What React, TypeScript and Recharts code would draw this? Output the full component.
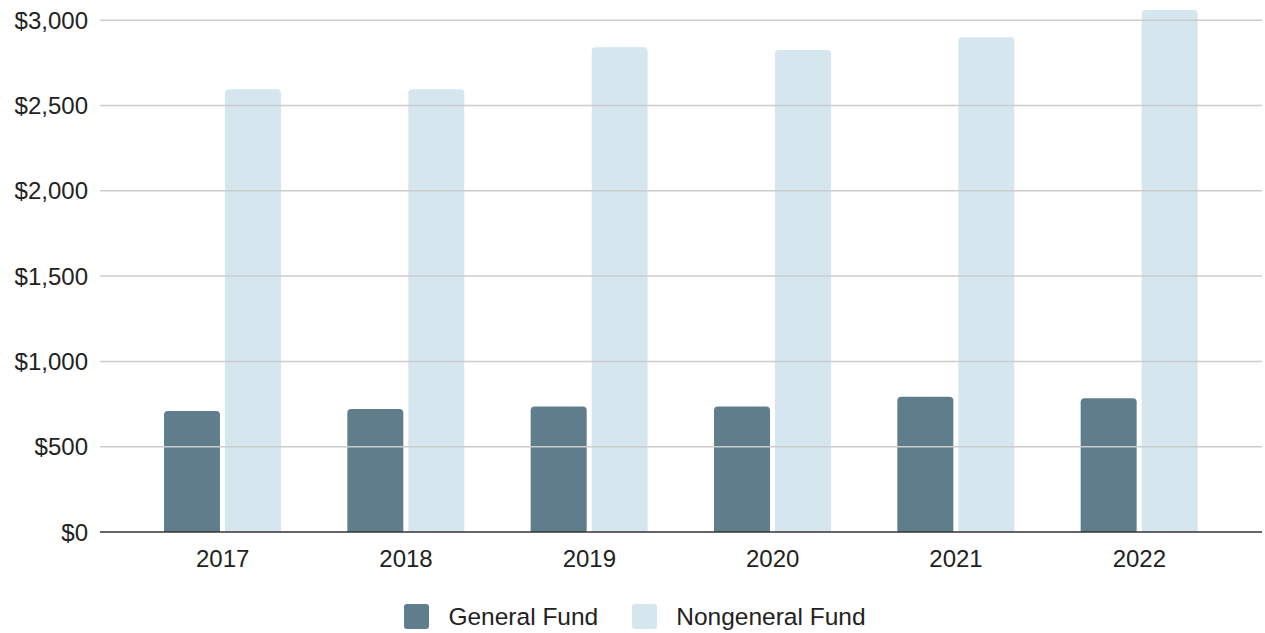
import { BarChart, Bar, XAxis, YAxis, ReferenceLine, Legend } from 'recharts';

const years = ['2017', '2018', '2019', '2020', '2021', '2022'];
const generalFund = [709, 721, 735, 735, 793, 784];
const nongeneralFund = [2595, 2595, 2841, 2825, 2900, 3060];
const yTicks = [0, 500, 1000, 1500, 2000, 2500, 3000];
const Y_MAX = 3060;

const GENERAL_COLOR = '#607D8B';
const NONGENERAL_COLOR = '#D6E6EF';
const FONT = '"Liberation Sans", Arial, sans-serif';

const data = years.map((year, i) => ({
  year,
  general: generalFund[i],
  nongeneral: nongeneralFund[i],
}));

const formatDollar = (v: number) => `$${v.toLocaleString('en-US')}`;

const LegendContent = () => {
  const items = [
    { label: 'General Fund', color: GENERAL_COLOR },
    { label: 'Nongeneral Fund', color: NONGENERAL_COLOR },
  ];
  return (
    <div
      style={{
        height: 51,
        paddingTop: 22,
        paddingLeft: 8,
        boxSizing: 'border-box',
        display: 'flex',
        justifyContent: 'center',
        fontFamily: FONT,
        fontSize: 24.5,
        color: '#222',
      }}
    >
      {items.map((item, i) => (
        <div
          key={item.label}
          style={{ display: 'flex', alignItems: 'center', marginLeft: i === 0 ? 0 : 34, height: 25 }}
        >
          <span
            style={{
              width: 25,
              height: 25,
              borderRadius: 3,
              background: item.color,
              marginRight: 19,
              display: 'inline-block',
            }}
          />
          <span>{item.label}</span>
        </div>
      ))}
    </div>
  );
};

export default function App() {
  return (
    <div style={{ position: 'absolute', left: 0, top: 0, width: 1265, height: 633, background: '#fff' }}>
      <BarChart
        width={1265}
        height={633}
        data={data}
        margin={{ top: 10, right: 3, bottom: 0, left: 0 }}
        barGap={5}
        barSize={56}
      >
        <XAxis
          dataKey="year"
          height={50}
          tickLine={false}
          tickMargin={12}
          axisLine={{ stroke: '#333333', strokeWidth: 1.5 }}
          padding={{ left: 31, right: 31 }}
          tick={{ fill: '#222', fontSize: 24, fontFamily: FONT }}
        />
        <YAxis
          width={100}
          domain={[0, Y_MAX]}
          ticks={yTicks}
          tickFormatter={formatDollar}
          axisLine={false}
          tickLine={false}
          tickMargin={6}
          tick={{ fill: '#222', fontSize: 24, fontFamily: FONT }}
        />
        {/* grid lines only at the labelled ticks */}
        {yTicks.slice(1).map((v) => (
          <ReferenceLine key={v} y={v} stroke="#cccccc" strokeWidth={1.5} />
        ))}
        <Legend verticalAlign="bottom" content={() => <LegendContent />} />
        <Bar
          dataKey="general"
          name="General Fund"
          fill={GENERAL_COLOR}
          radius={[4, 4, 0, 0]}
          isAnimationActive={false}
        />
        <Bar
          dataKey="nongeneral"
          name="Nongeneral Fund"
          fill={NONGENERAL_COLOR}
          radius={[4, 4, 0, 0]}
          isAnimationActive={false}
        />
      </BarChart>
    </div>
  );
}
